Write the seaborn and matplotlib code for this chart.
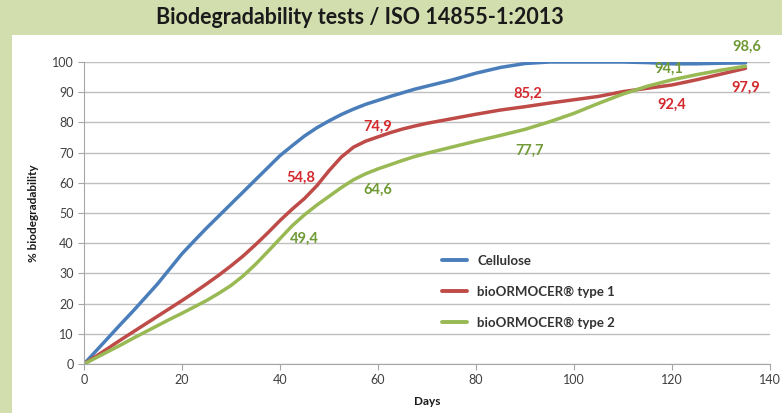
import matplotlib
matplotlib.use("Agg")
import matplotlib.pyplot as plt
import matplotlib.patches as mpatches
import pandas as pd
import seaborn as sns

# values
days = [0, 2.5, 5, 7.5, 10, 12.5, 15, 17.5, 20, 22.5, 25, 27.5, 30, 32.5, 35, 37.5,
        40, 42.5, 45, 47.5, 50, 52.5, 55, 57.5, 60, 62.5, 65, 67.5, 70,
        75, 80, 85, 90, 95, 100, 105, 110, 115, 120, 125, 130, 135]
cellulose = [0, 4.4, 8.8, 13.2, 17.5, 22, 26.5, 31.5, 36.5, 40.8, 45, 49, 53, 57, 61, 65,
             69, 72.3, 75.5, 78.2, 80.5, 82.6, 84.4, 86, 87.3, 88.6, 89.8, 91, 92,
             94, 96.3, 98.2, 99.5, 100, 100, 100, 100, 99.8, 99.4, 99.4, 99.6, 99.7]
type1 = [0, 2.6, 5.3, 8, 10.6, 13.2, 15.8, 18.4, 21, 23.7, 26.5, 29.4, 32.5, 35.8, 39.5, 43.4,
         47.5, 51.3, 54.8, 59, 64, 68.5, 71.8, 73.8, 75.2, 76.6, 77.8, 78.8, 79.7,
         81.2, 82.7, 84.1, 85.2, 86.4, 87.5, 88.6, 90.2, 91.3, 92.4, 94.1, 96, 97.9]
type2 = [0, 2.1, 4.2, 6.3, 8.5, 10.6, 12.7, 14.8, 16.8, 18.9, 21, 23.4, 26, 29.2, 33, 37.2,
         41.5, 45.8, 49.4, 52.6, 55.5, 58.4, 61, 63, 64.6, 66, 67.4, 68.7, 69.8,
         71.8, 73.8, 75.7, 77.7, 80.2, 83, 86.3, 89.4, 92, 94.1, 95.8, 97.3, 98.6]
series = ["Cellulose", "bioORMOCER® type 1", "bioORMOCER® type 2"]
colors = ["#4A7EBB", "#BE4B48", "#98B954"]

# data labels
label_days1 = [45, 60, 90, 120, 135]
label_vals1 = [54.8, 74.9, 85.2, 92.4, 97.9]
label_days2 = [45, 60, 90, 120, 135]
label_vals2 = [49.4, 64.6, 77.7, 94.1, 98.6]
# offsets (days, %) of each label from its point
offs1 = [(-0.7, 6.7), (0, 3.7), (0.5, 4.2), (0, -6.6), (0, -6.3)]
offs2 = [(0, -8.1), (0, -6.8), (1, -7.1), (-0.7, 3.5), (0.2, 6.4)]

df = pd.concat([
    pd.DataFrame({"Days": days, "value": vals, "series": name})
    for name, vals in zip(series, [cellulose, type1, type2])
])

sns.set_style("white")
plt.rcParams["font.family"] = ["Lato", "DejaVu Sans"]

fig = plt.figure(figsize=(7.82, 4.13), dpi=100)
fig.patch.set_facecolor("#D3DEAF")
fig.patches.append(mpatches.Rectangle((12 / 782, 0), 1, 1 - 35 / 413,
                                      transform=fig.transFigure,
                                      facecolor="white", edgecolor="none", zorder=-5))
fig.text(360 / 782, 1 - 18 / 413, "Biodegradability tests / ISO 14855-1:2013",
         ha="center", va="center", fontsize=15.5, fontweight="bold", color="#1a1a1a")

ax = fig.add_axes([84 / 782, 49 / 413, 686 / 782, 302 / 413])
ax.set_facecolor("white")
sns.lineplot(data=df, x="Days", y="value", hue="series", palette=colors,
             hue_order=series, linewidth=2.5, ax=ax, legend=False)
for ln in ax.get_lines():
    ln.set_solid_joinstyle("round")
    ln.set_solid_capstyle("round")

ax.set_xlim(0, 140)
ax.set_ylim(0, 100)
ax.set_xticks(range(0, 141, 20))
ax.set_yticks(range(0, 101, 10))
ax.yaxis.grid(True, color="#BFBFBF", linewidth=1)
ax.set_axisbelow(True)
for s in ["top", "right"]:
    ax.spines[s].set_visible(False)
for s in ["left", "bottom"]:
    ax.spines[s].set_color("#A6A6A6")
ax.tick_params(axis="both", length=4, color="#A6A6A6", labelsize=9, labelcolor="#404040",
               direction="out", left=True, bottom=True)
ax.set_xlabel("Days", fontsize=8.5, fontweight="bold", labelpad=7, color="#1a1a1a")
ax.set_ylabel("% biodegradability", fontsize=8.5, fontweight="bold", labelpad=9,
              color="#1a1a1a")

for d, v, (dx, dy) in zip(label_days1, label_vals1, offs1):
    ax.text(d + dx, v + dy, f"{v:.1f}".replace(".", ","), color="#D42A2E",
            fontsize=10.5, fontweight="bold", ha="center", va="center", clip_on=False)
for d, v, (dx, dy) in zip(label_days2, label_vals2, offs2):
    ax.text(d + dx, v + dy, f"{v:.1f}".replace(".", ","), color="#6F9A35",
            fontsize=10.5, fontweight="bold", ha="center", va="center", clip_on=False)

handles = [plt.Line2D([], [], color=c, linewidth=2.8) for c in colors]
leg = ax.legend(handles, series, loc="upper left", bbox_to_anchor=(0.522, 0.362),
                frameon=False, fontsize=9.5, handlelength=1.9, handletextpad=0.75,
                labelspacing=1.45, borderpad=0, borderaxespad=0)
for t in leg.get_texts():
    t.set_fontweight("bold")
    t.set_color("#333333")

fig.savefig("out.png", dpi=100, facecolor=fig.get_facecolor())
